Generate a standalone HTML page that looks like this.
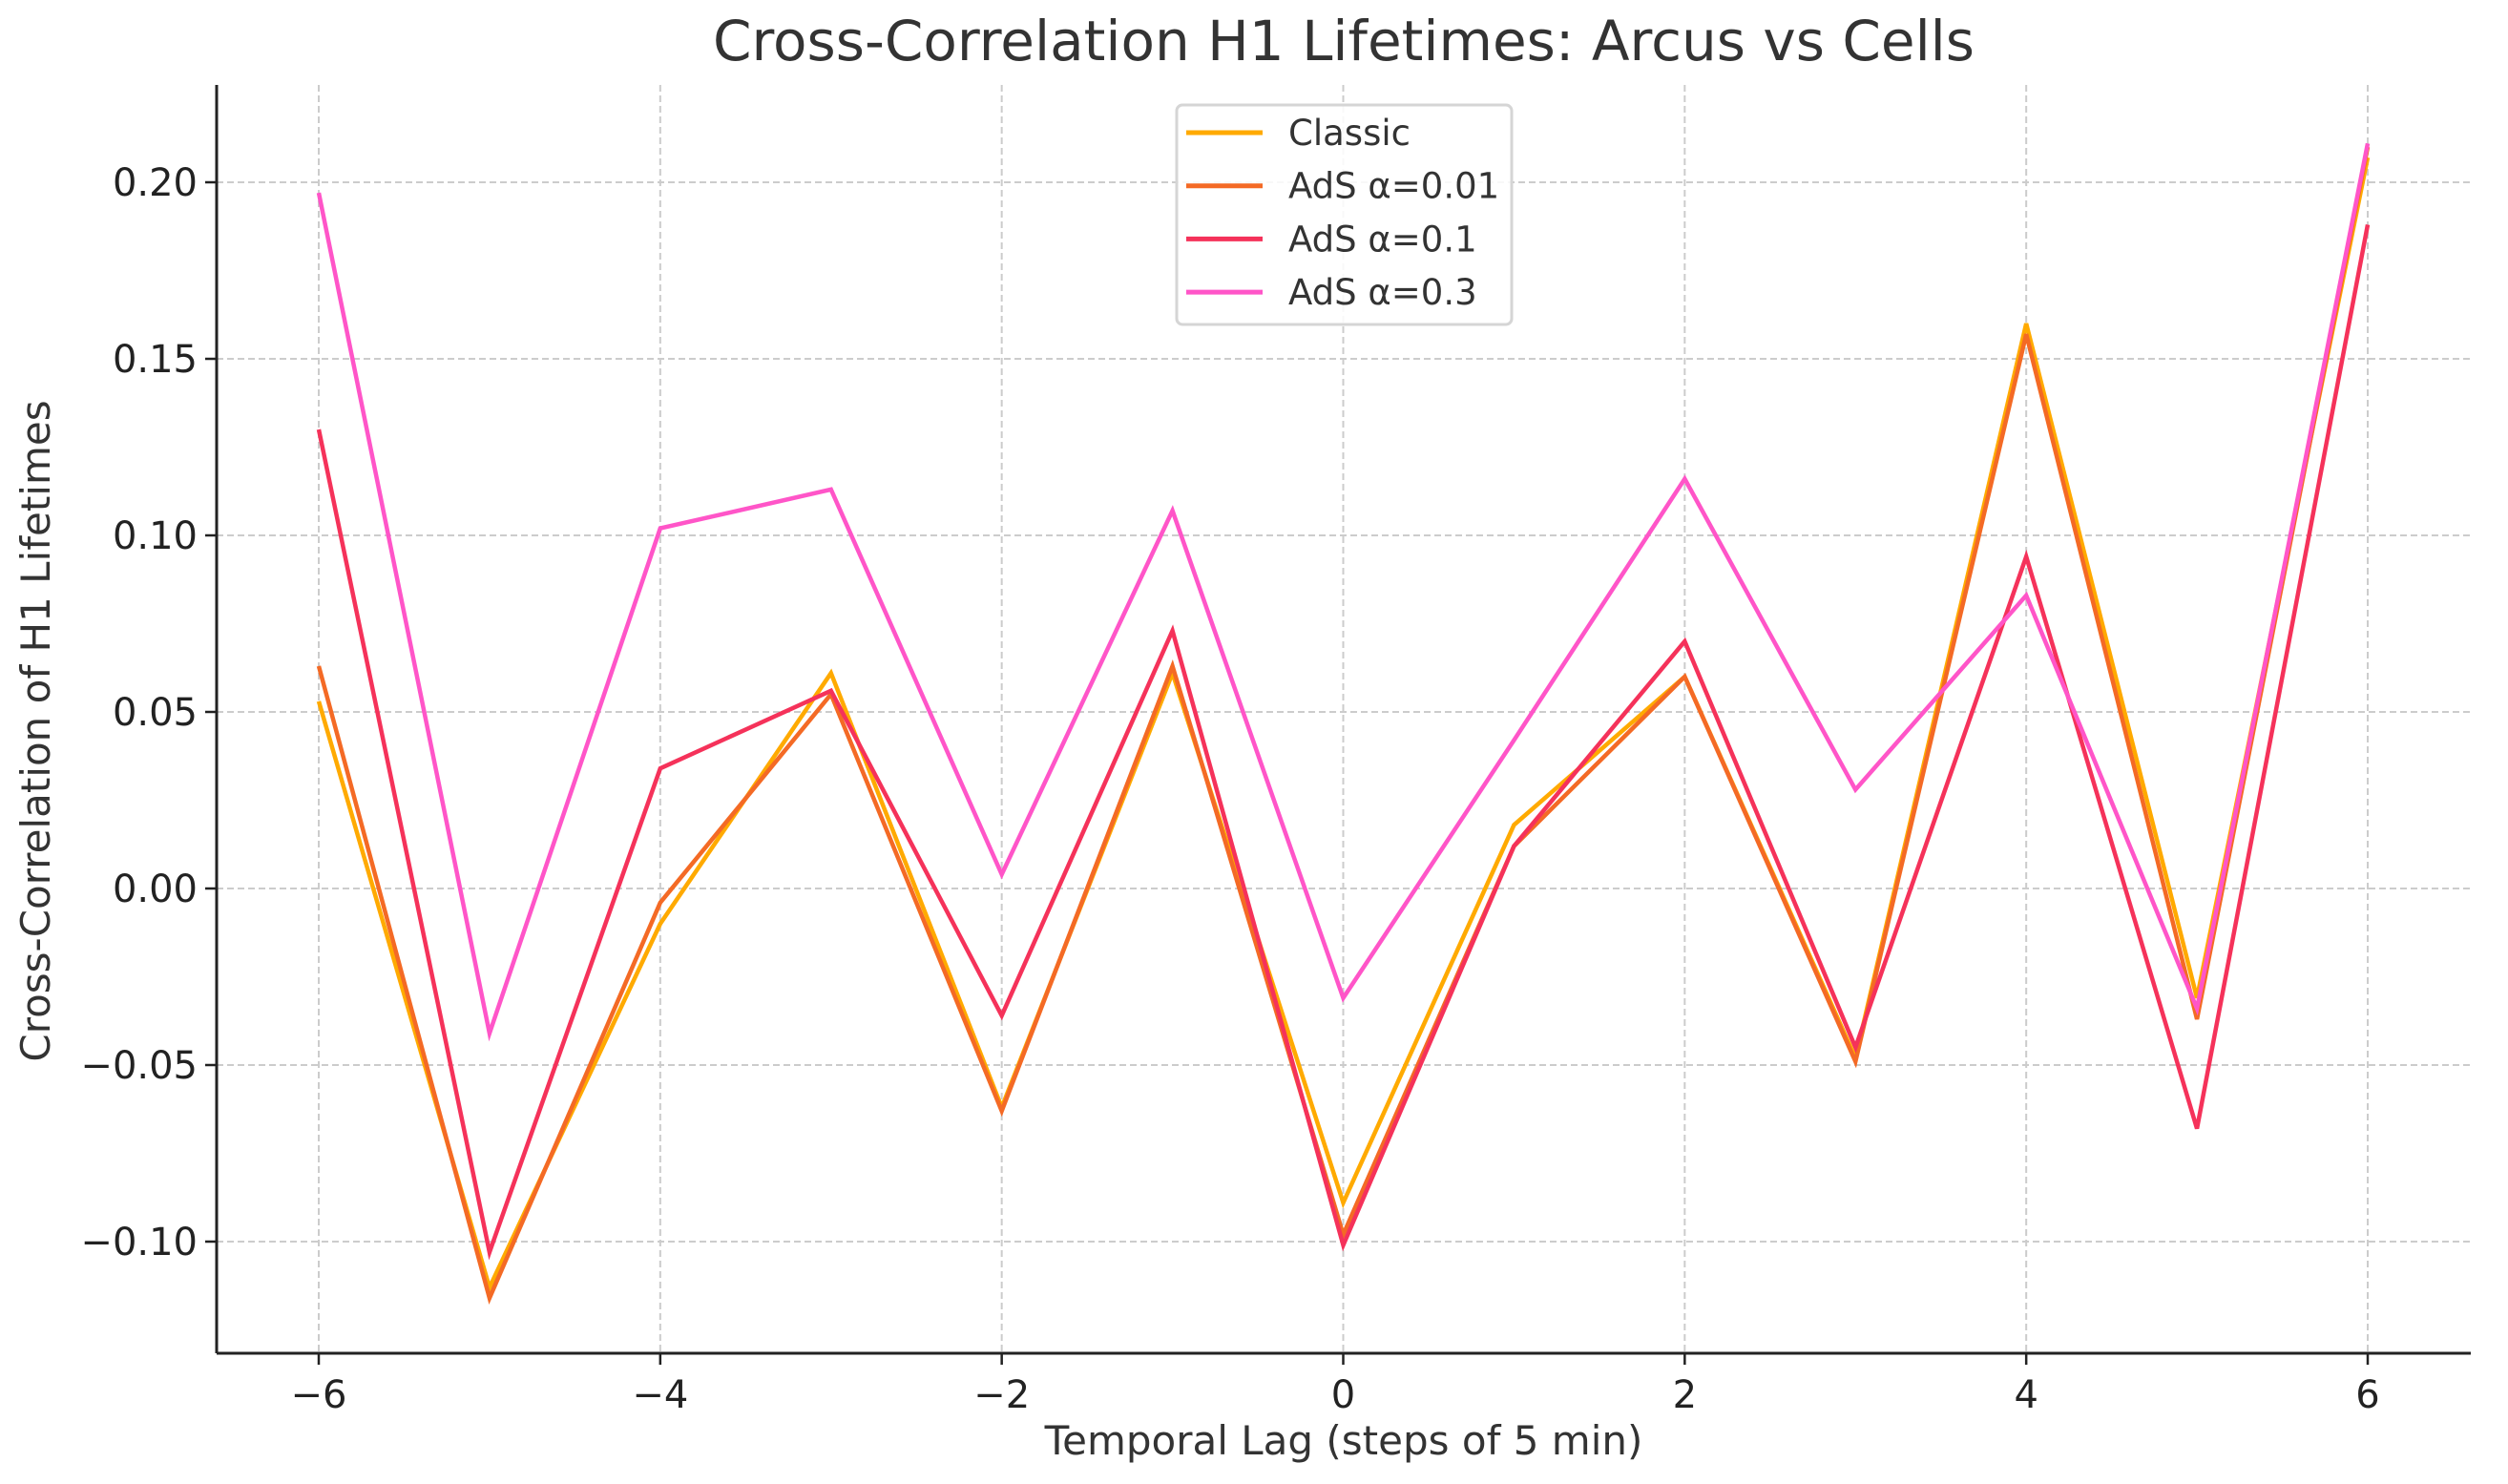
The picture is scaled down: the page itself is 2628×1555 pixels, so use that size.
<!DOCTYPE html>
<html><head><meta charset="utf-8"><style>
html,body{margin:0;padding:0;background:#fff;}
svg{display:block;font-family:"DejaVu Sans","Liberation Sans",sans-serif;}
</style></head><body>
<svg id="chart" width="2628" height="1555" viewBox="0 0 2628 1555" xmlns="http://www.w3.org/2000/svg">
<text x="1408" y="63" text-anchor="middle" font-size="58" fill="#333">Cross-Correlation H1 Lifetimes: Arcus vs Cells</text>
<g id="grid"></g>
<g id="series"></g>
<g id="axes"></g>
<text x="1408" y="1524" text-anchor="middle" font-size="42" fill="#333">Temporal Lag (steps of 5 min)</text>
<text transform="translate(52,766) rotate(-90)" text-anchor="middle" font-size="42" fill="#333">Cross-Correlation of H1 Lifetimes</text>
<g id="legend"></g>
</svg>
<script>
const lags = [-6,-5,-4,-3,-2,-1,0,1,2,3,4,5,6];
const classic = [0.053,-0.113,-0.010,0.061,-0.062,0.061,-0.089,0.018,0.060,-0.048,0.160,-0.031,0.207];
const ads001 = [0.063,-0.116,-0.004,0.055,-0.063,0.063,-0.098,0.012,0.060,-0.049,0.157,-0.037,0.210];
const ads01 = [0.130,-0.103,0.034,0.056,-0.036,0.073,-0.101,0.012,0.070,-0.045,0.094,-0.068,0.188];
const ads03 = [0.197,-0.041,0.102,0.113,0.004,0.107,-0.031,0.042,0.116,0.028,0.083,-0.034,0.211];
const seriesNames = ["Classic","AdS α=0.01","AdS α=0.1","AdS α=0.3"];
const xTicks = [-6,-4,-2,0,2,4,6];
const yTicks = [-0.10,-0.05,0.00,0.05,0.10,0.15,0.20];
const yTickLabels = ["−0.10","−0.05","0.00","0.05","0.10","0.15","0.20"];

const colors = ["#FFAA00","#F46A25","#F5325A","#FF55C8"];
const L=227,R=2589,T=89,B=1418;
const sx=v=>334+(v+6)*(2481-334)/12;
const sy=v=>931-v*3700;
const NS="http://www.w3.org/2000/svg";
function mk(tag,attrs,parent){const e=document.createElementNS(NS,tag);for(const k in attrs)e.setAttribute(k,attrs[k]);parent.appendChild(e);return e;}
const grid=document.getElementById('grid'),axes=document.getElementById('axes'),ser=document.getElementById('series'),leg=document.getElementById('legend');
xTicks.forEach(t=>{
  const g=mk('line',{x1:sx(t),x2:sx(t),y1:T,y2:B,stroke:'#cccccc','stroke-width':2,'stroke-dasharray':'7,4'},grid);
  
  
  const tk=mk('line',{x1:sx(t),x2:sx(t),y1:B,y2:B+12,stroke:'#222','stroke-width':2.5},axes);
  
  
  const tx=mk('text',{x:sx(t),y:B+57,'text-anchor':'middle','font-size':40,fill:'#222'},axes);
  
  
  tx.textContent=(t<0?'−':'')+Math.abs(t);
});
yTicks.forEach((t,i)=>{
  const g=mk('line',{x1:L,x2:R,y1:sy(t),y2:sy(t),stroke:'#cccccc','stroke-width':2,'stroke-dasharray':'7,4'},grid);
  
  
  const tk=mk('line',{x1:L-12,x2:L,y1:sy(t),y2:sy(t),stroke:'#222','stroke-width':2.5},axes);
  
  
  const tx=mk('text',{x:L-20,y:sy(t)+14,'text-anchor':'end','font-size':40,fill:'#222'},axes);
  
  
  tx.textContent=yTickLabels[i];
});
const sp1=mk('line',{x1:L,x2:L,y1:T,y2:B,stroke:'#222','stroke-width':3},axes);


const sp2=mk('line',{x1:L,x2:R,y1:B,y2:B,stroke:'#222','stroke-width':3},axes);


[classic,ads001,ads01,ads03].forEach((arr,si)=>{
  const pts=arr.map((v,i)=>sx(lags[i])+','+sy(v)).join(' ');
  const p=mk('polyline',{points:pts,fill:'none',stroke:colors[si],'stroke-width':4.5,'stroke-linejoin':'miter'},ser);
  
  
});
const box=mk('rect',{x:1233,y:110,width:351,height:230,rx:6,fill:'#fff','fill-opacity':0.85,stroke:'#d5d5d5','stroke-width':3},leg);


seriesNames.forEach((n,i)=>{
  const y=139+i*55.7;
  const l=mk('line',{x1:1243,x2:1323,y1:y,y2:y,stroke:colors[i],'stroke-width':5},leg);
  
  
  const t=mk('text',{x:1350,y:y+13,'font-size':37,fill:'#333'},leg);
  
  
  t.textContent=n;
});
</script>
</body></html>
